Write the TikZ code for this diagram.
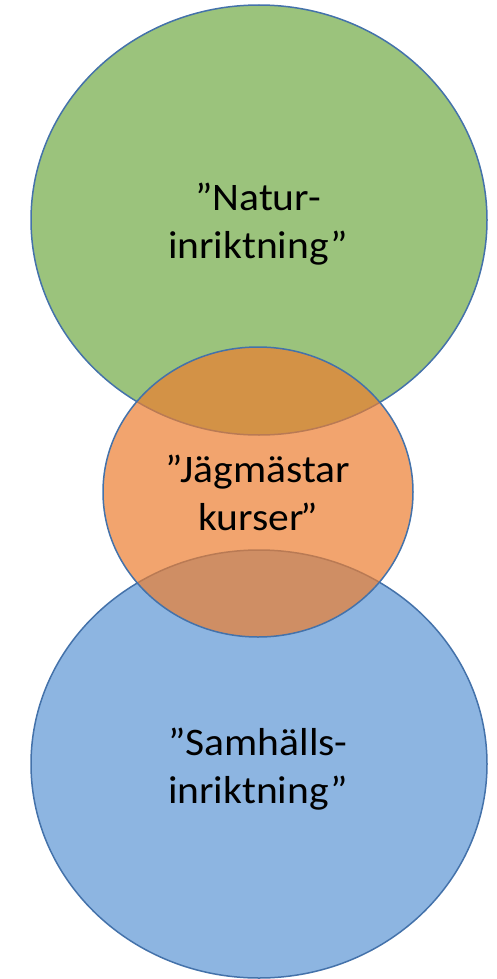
\documentclass[tikz,border=0pt]{standalone}
\usepackage{fontspec}
\setmainfont[FakeStretch=1.065]{Carlito}
\definecolor{natgreen}{RGB}{155,195,124}
\definecolor{samblue}{RGB}{141,181,225}
\definecolor{jagorange}{RGB}{236,126,48}
\definecolor{ringblue}{RGB}{68,114,170}
\begin{document}
\begin{tikzpicture}[x=1pt,y=-1pt,
  ring/.style={draw=ringblue, line width=1.5pt},
  lbl/.style={align=center, font=\fontsize{39}{48}\selectfont, inner sep=0pt, text=black}]
\useasboundingbox (0,0) rectangle (496,979);
\filldraw[ring, fill=natgreen] (259,220) ellipse [x radius=228, y radius=215];
\filldraw[ring, fill=samblue] (259,764) ellipse [x radius=228, y radius=214];
\fill[jagorange, fill opacity=0.7] (258,492) ellipse [x radius=155, y radius=145];
\draw[ring] (258,492) ellipse [x radius=155, y radius=145];
\node[lbl] (natur) at (258,224) {”Natur-\\inriktning”};
\node[lbl] (jag) at (258,493) {”Jägmästar\\kurser\kern-3pt”};
\node[lbl] (sam) at (258,769) {”Samhälls-\\inriktning”};
\end{tikzpicture}
\end{document}
